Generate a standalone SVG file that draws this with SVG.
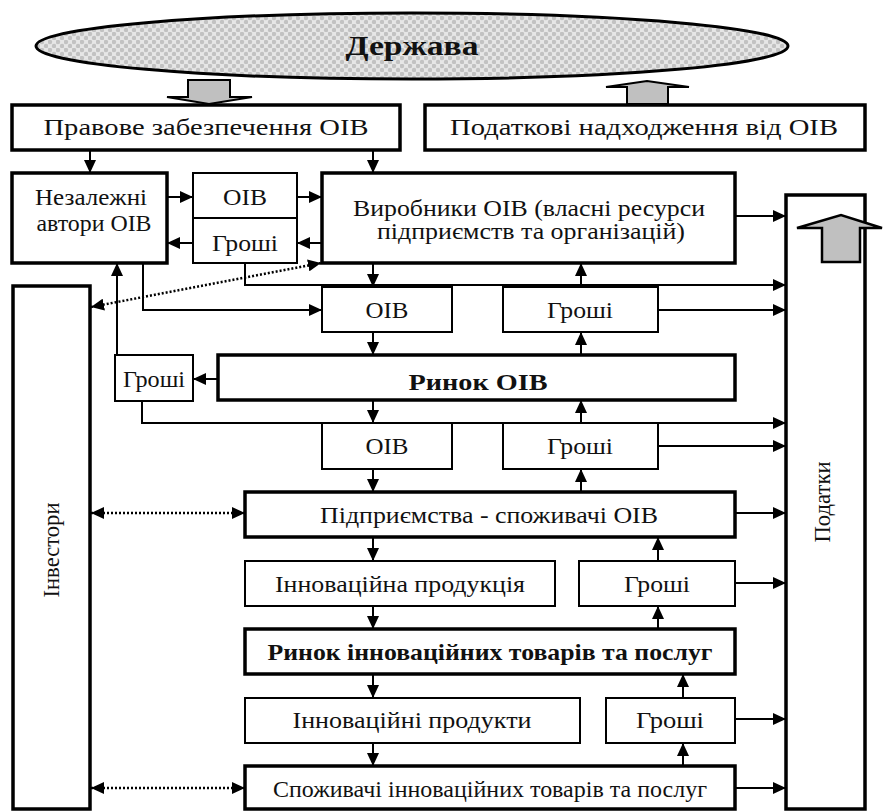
<svg xmlns="http://www.w3.org/2000/svg" width="883" height="811" viewBox="0 0 883 811">
<style>
text{font-family:"Liberation Serif","Times New Roman",serif;font-size:23px;fill:#111;text-anchor:middle}
.b{font-weight:bold}
.thick{fill:#fff;stroke:#000;stroke-width:3.5}
.thin{fill:#fff;stroke:#000;stroke-width:2}
.c{fill:none;stroke:#000;stroke-width:2;marker-end:url(#ah)}
.d{fill:none;stroke:#000;stroke-width:2.5;stroke-dasharray:2 2;marker-end:url(#ah);marker-start:url(#ah)}
.g{fill:#c0c0c0;stroke:#000;stroke-width:2}
</style>
<defs>
<marker id="ah" markerUnits="userSpaceOnUse" markerWidth="13" markerHeight="12" refX="13" refY="6" orient="auto-start-reverse"><path d="M0,0 L13,6 L0,12 z" fill="#000"/></marker>
<pattern id="dots" width="8" height="8" patternUnits="userSpaceOnUse"><rect width="8" height="8" fill="#e6e6e6"/><circle cx="2" cy="2" r="2.2" fill="#c2c2c2"/><circle cx="6" cy="6" r="2.2" fill="#c2c2c2"/></pattern>
</defs>

<g id="derzhava">
<ellipse cx="412" cy="46" rx="376" ry="33" fill="url(#dots)" stroke="#000" stroke-width="3"/>
<text class="b" x="412" y="55" style="font-size:28px" textLength="133" lengthAdjust="spacingAndGlyphs">Держава</text>
</g>
<g id="arrow-down-gray"><polygon class="g" points="188,80 230,80 230,97 252,97 209,104 167,97 188,97"/></g>
<g id="arrow-up-gray"><polygon class="g" points="627,104 627,87 606,87 647,81 689,87 668,87 668,104"/></g>

<g id="pravove"><rect class="thick" x="12" y="105" width="388" height="45"/><text x="206" y="135" textLength="325" lengthAdjust="spacingAndGlyphs">Правове забезпечення ОІВ</text></g>
<g id="podatkovi"><rect class="thick" x="425" y="105" width="440" height="45"/><text x="644" y="135" textLength="388" lengthAdjust="spacingAndGlyphs">Податкові надходження від ОІВ</text></g>

<g id="nezalezhni"><rect class="thick" x="12" y="173" width="155" height="90"/><text x="91" y="205" textLength="112" lengthAdjust="spacingAndGlyphs">Незалежні</text><text x="94" y="231" textLength="115" lengthAdjust="spacingAndGlyphs">автори ОІВ</text></g>
<g id="oib-groshi-small"><rect class="thin" x="193" y="173" width="104" height="90"/><line x1="193" y1="218" x2="297" y2="218" stroke="#000" stroke-width="2"/><text x="245" y="205" textLength="44" lengthAdjust="spacingAndGlyphs">ОІВ</text><text x="245" y="251" textLength="66" lengthAdjust="spacingAndGlyphs">Гроші</text></g>
<g id="vyrobnyky"><rect class="thick" x="322" y="173" width="413" height="90"/><text x="529" y="216" textLength="352" lengthAdjust="spacingAndGlyphs">Виробники ОІВ (власні ресурси</text><text x="531" y="239" textLength="308" lengthAdjust="spacingAndGlyphs">підприємств та організацій)</text></g>

<g id="podatky"><rect class="thick" x="786" y="195" width="79" height="614"/><polygon class="g" points="822,262 822,228 797,228 841,215 882,228 860,228 860,262" style="stroke-width:2.5"/><text transform="translate(830,502) rotate(-90)" textLength="81" lengthAdjust="spacingAndGlyphs">Податки</text></g>
<g id="investory"><rect class="thick" x="13" y="286" width="77" height="523"/><text transform="translate(59,550) rotate(-90)" textLength="95" lengthAdjust="spacingAndGlyphs">Інвестори</text></g>

<g id="oib1"><rect class="thin" x="322" y="287" width="130" height="45"/><text x="387" y="318" textLength="43" lengthAdjust="spacingAndGlyphs">ОІВ</text></g>
<g id="groshi1"><rect class="thin" x="503" y="287" width="155" height="45"/><text x="580" y="318" textLength="66" lengthAdjust="spacingAndGlyphs">Гроші</text></g>
<g id="groshi-left"><rect class="thin" x="115" y="355" width="78" height="46"/><text x="154" y="387" textLength="62" lengthAdjust="spacingAndGlyphs">Гроші</text></g>
<g id="rynok-oib"><rect class="thick" x="218" y="355" width="517" height="45"/><text class="b" x="478" y="390" textLength="139" lengthAdjust="spacingAndGlyphs">Ринок ОІВ</text></g>
<g id="oib2"><rect class="thin" x="322" y="423" width="130" height="46"/><text x="387" y="454" textLength="43" lengthAdjust="spacingAndGlyphs">ОІВ</text></g>
<g id="groshi2"><rect class="thin" x="503" y="423" width="155" height="46"/><text x="580" y="454" textLength="66" lengthAdjust="spacingAndGlyphs">Гроші</text></g>
<g id="pidpryiemstva"><rect class="thick" x="245" y="492" width="490" height="45"/><text x="489" y="523" textLength="338" lengthAdjust="spacingAndGlyphs">Підприємства - споживачі ОІВ</text></g>
<g id="innov-produktsiia"><rect class="thin" x="245" y="561" width="310" height="45"/><text x="400" y="592" textLength="250" lengthAdjust="spacingAndGlyphs">Інноваційна продукція</text></g>
<g id="groshi3"><rect class="thin" x="579" y="561" width="156" height="45"/><text x="657" y="592" textLength="66" lengthAdjust="spacingAndGlyphs">Гроші</text></g>
<g id="rynok-innov"><rect class="thick" x="245" y="629" width="490" height="45"/><text class="b" x="490" y="660" textLength="445" lengthAdjust="spacingAndGlyphs">Ринок інноваційних товарів та послуг</text></g>
<g id="innov-produkty"><rect class="thin" x="245" y="698" width="335" height="45"/><text x="412" y="728" textLength="239" lengthAdjust="spacingAndGlyphs">Інноваційні продукти</text></g>
<g id="groshi4"><rect class="thin" x="606" y="698" width="129" height="45"/><text x="670" y="728" textLength="68" lengthAdjust="spacingAndGlyphs">Гроші</text></g>
<g id="spozhyvachi"><rect class="thick" x="245" y="766" width="490" height="43"/><text x="490" y="797" textLength="434" lengthAdjust="spacingAndGlyphs">Споживачі інноваційних товарів та послуг</text></g>

<g id="connectors">
<path class="c" d="M90,150 V173"/>
<path class="c" d="M373,150 V173"/>
<path class="c" d="M167,197 H193"/>
<path class="c" d="M297,197 H322"/>
<path class="c" d="M322,243 H297"/>
<path class="c" d="M193,243 H167"/>
<path class="c" d="M735,216 H786"/>
<path class="c" d="M373,263 V287"/>
<path class="c" d="M581,287 V263"/>
<path class="c" d="M245,263 V285 H786"/>
<path class="c" d="M658,310 H786"/>
<path class="c" d="M143,263 V310 H322"/>
<path class="c" d="M373,332 V355"/>
<path class="c" d="M581,355 V332"/>
<path class="c" d="M218,379 H193"/>
<path class="c" d="M117,355 V263"/>
<path class="c" d="M142,401 V423 H786"/>
<path class="c" d="M373,400 V423"/>
<path class="c" d="M581,423 V400"/>
<path class="c" d="M658,446 H786"/>
<path class="c" d="M373,469 V492"/>
<path class="c" d="M581,492 V469"/>
<path class="c" d="M735,513 H786"/>
<path class="c" d="M373,537 V561"/>
<path class="c" d="M658,561 V537"/>
<path class="c" d="M735,583 H786"/>
<path class="c" d="M373,606 V629"/>
<path class="c" d="M658,629 V606"/>
<path class="c" d="M373,674 V698"/>
<path class="c" d="M683,698 V674"/>
<path class="c" d="M735,719 H786"/>
<path class="c" d="M373,743 V766"/>
<path class="c" d="M683,766 V743"/>
<path class="c" d="M735,788 H786"/>
<path class="d" d="M91,307 L321,263"/>
<path class="d" d="M91,513 H245"/>
<path class="d" d="M91,788 H245"/>
</g>
</svg>
